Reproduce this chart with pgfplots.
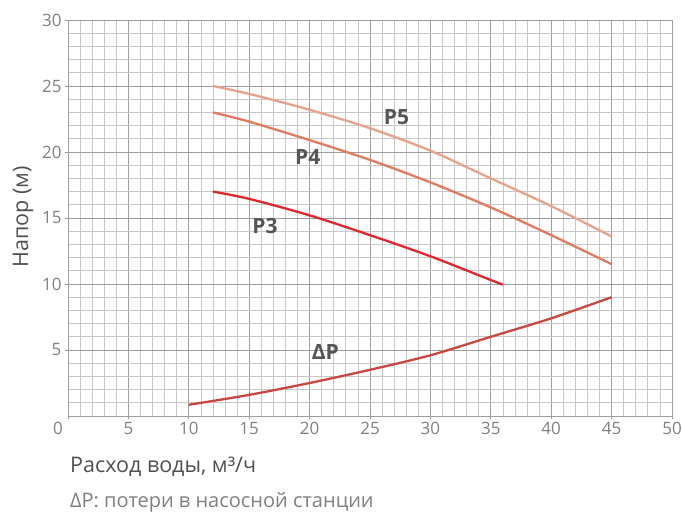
\documentclass[border=0pt]{standalone}
\usepackage{pgfplots}
\pgfplotsset{compat=1.18}
\usepackage{fontspec}
\setmainfont{Open Sans}
\definecolor{cP5}{HTML}{E9A28A}
\definecolor{cP4}{HTML}{E27A5E}
\definecolor{cP3}{HTML}{E3262D}
\definecolor{cDP}{HTML}{C9473F}
\definecolor{labgray}{HTML}{555555}
\definecolor{tickgray}{HTML}{808080}
\definecolor{txtgray}{HTML}{505050}
\begin{document}
\begin{tikzpicture}
\useasboundingbox (0,0) rectangle (682pt,513pt);
\begin{axis}[
  at={(68pt,97pt)}, anchor=south west,
  scale only axis, width=604pt, height=396pt,
  xmin=0, xmax=50, ymin=0, ymax=30,
  xtick={5,10,...,50}, ytick={5,10,...,30},
  minor xtick={0,1,...,50}, minor ytick={0,1,...,30},
  extra x ticks={0}, extra x tick labels={},
  grid=both,
  major grid style={draw=black!38, line width=0.7pt},
  minor grid style={draw=black!22, line width=0.7pt},
  xtick pos=bottom, ytick pos=left,
  tick align=outside, major tick length=3pt, minor tick length=0pt,
  tick style={draw=black!40, line width=0.7pt},
  axis line style={draw=black!38, line width=0.7pt},
  ticklabel style={font=\fontsize{17}{17}\selectfont, text=tickgray},
  /pgf/number format/assume math mode=true,
  clip=false,
]
\addplot[cP5, line width=2.3pt, smooth] coordinates {(12,25) (15,24.4) (20,23.2) (25,21.8) (30,20.1) (35,18.0) (40,15.9) (45,13.6)};
\addplot[cP4, line width=2.3pt, smooth] coordinates {(12,23) (15,22.3) (20,20.9) (25,19.4) (30,17.7) (35,15.8) (40,13.7) (45,11.5)};
\addplot[cP3, line width=2.3pt, smooth] coordinates {(12,17) (15,16.45) (20,15.2) (25,13.7) (30,12.1) (35,10.3) (36,9.95)};
\addplot[cDP, line width=2.3pt, smooth] coordinates {(10,0.85) (15,1.6) (20,2.5) (25,3.5) (30,4.6) (35,6.0) (40,7.4) (45,9.0)};
\node[font=\fontsize{21}{21}\selectfont\bfseries, text=labgray] at (axis cs:27.2,22.65) {P5};
\node[font=\fontsize{21}{21}\selectfont\bfseries, text=labgray] at (axis cs:19.85,19.6) {P4};
\node[font=\fontsize{21}{21}\selectfont\bfseries, text=labgray] at (axis cs:16.3,14.4) {P3};
\node[font=\fontsize{21}{21}\selectfont\bfseries, text=labgray] at (axis cs:21.3,4.85) {ΔP};
\end{axis}
\node[font=\fontsize{17}{17}\selectfont, text=tickgray] at (58pt,85pt) {0};
\node[anchor=base west, font=\fontsize{21.5}{21.5}\selectfont, text=txtgray, inner sep=0pt] at (70pt,40pt) {Расход воды, м³/ч};
\node[anchor=base west, font=\fontsize{20}{20}\selectfont, text=tickgray, inner sep=0pt] at (70pt,5pt) {ΔP: потери в насосной станции};
\node[rotate=90, font=\fontsize{21.5}{21.5}\selectfont, text=txtgray] at (23pt,296pt) {Напор (м)};
\end{tikzpicture}
\end{document}
